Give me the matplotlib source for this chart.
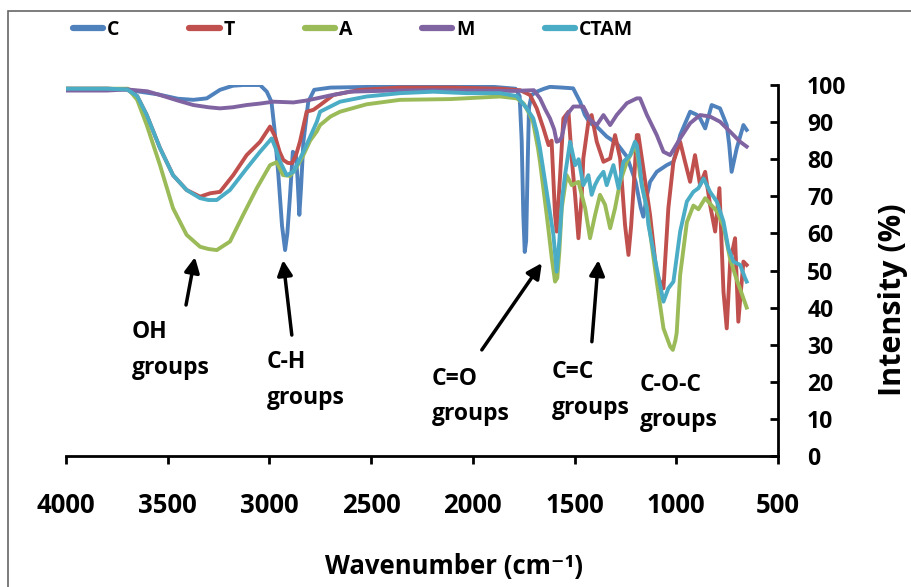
import matplotlib
matplotlib.use("Agg")
import matplotlib.pyplot as plt
from matplotlib.patches import Rectangle
import numpy as np

plt.rcParams['font.family'] = ['Open Sans', 'DejaVu Sans']

series_names = ["C", "T", "A", "M", "CTAM"]
series_colors = ["#4F81BD", "#C0504D", "#9BBB59", "#8064A2", "#4BACC6"]

C_points = [(4000, 99), (3900, 99), (3800, 99), (3700, 98.8), (3650, 98.3), (3550, 97.5),
            (3450, 96.3), (3374, 96), (3308, 96.4), (3243, 98.7), (3180, 99.8), (3128, 100),
            (3046, 100), (3013, 98.2), (2990, 95.5), (2975, 88), (2956, 75.7), (2938, 62),
            (2923, 55.5), (2912, 60), (2899, 70), (2885, 82), (2870, 81), (2862, 75),
            (2853, 65), (2845, 72), (2833, 84.7), (2809, 95.5), (2780, 98.7), (2700, 99.3),
            (2500, 99.5), (2300, 99.6), (2100, 99.6), (1900, 99.5), (1790, 99), (1770, 97),
            (1760, 85), (1752, 65), (1745, 55), (1738, 58), (1730, 80), (1724, 94),
            (1711, 97.3), (1686, 98.2), (1650, 99), (1621, 99.5), (1560, 99.3), (1507, 99.1),
            (1473, 95.5), (1450, 92), (1424, 89.7), (1391, 88.8), (1342, 86.1), (1293, 84.3),
            (1243, 80.7), (1200, 74), (1175, 67), (1162, 64.5), (1145, 70), (1129, 73.9),
            (1096, 76.6), (1047, 78.4), (1014, 79.3), (981, 86.5), (932, 92.8), (900, 92),
            (883, 91), (858, 88.3), (826, 94.6), (785, 93.7), (752, 89.2), (740, 84),
            (728, 76.6), (703, 82.9), (670, 89.2), (654, 87.9)]

T_points = [(4000, 99), (3800, 99), (3700, 98.8), (3650, 97), (3603, 91.9), (3538, 83),
            (3474, 75.7), (3407, 71.7), (3341, 69.9), (3292, 70.8), (3243, 71.2), (3178, 75.7),
            (3112, 81.1), (3046, 84.7), (2997, 88.8), (2972, 86.1), (2950, 82), (2932, 79.8),
            (2910, 79), (2890, 78.9), (2870, 81), (2850, 84.7), (2817, 92.8), (2784, 93.3),
            (2751, 94.6), (2686, 97.3), (2555, 98.7), (2358, 99.3), (2100, 99.3), (1866, 99),
            (1768, 98.6), (1719, 97.3), (1686, 93.7), (1653, 88.3), (1628, 83.8), (1613, 85),
            (1596, 65), (1588, 60.5), (1580, 68), (1571, 75.7), (1555, 91), (1530, 92.8),
            (1514, 80.2), (1497, 70), (1481, 58.7), (1465, 70), (1457, 80.2), (1432, 90.1),
            (1416, 91.9), (1391, 84.7), (1358, 79.3), (1325, 80.2), (1301, 86.5), (1276, 80.2),
            (1252, 62.3), (1235, 54.2), (1222, 62), (1211, 71.2), (1194, 86.5), (1186, 86.5),
            (1162, 77.5), (1129, 65), (1096, 48.8), (1063, 45.2), (1039, 66.8), (1014, 79.3),
            (981, 84.7), (957, 79.3), (932, 73.9), (908, 81.1), (883, 73), (858, 76.6),
            (834, 67.7), (809, 60.5), (788, 72.2), (768, 44.3), (752, 34.4), (735, 52.4),
            (711, 58.7), (695, 36.2), (670, 52.4), (654, 51.5)]

A_points = [(4000, 99), (3800, 99), (3695, 99), (3650, 96), (3603, 89.2), (3538, 78.4),
            (3474, 66.8), (3407, 59.6), (3341, 56.4), (3300, 55.8), (3259, 55.5), (3194, 57.8),
            (3129, 65), (3062, 72.2), (2997, 78.4), (2964, 79.2), (2933, 75.7), (2900, 75.5),
            (2884, 76.5), (2860, 78.5), (2834, 81), (2800, 85), (2767, 87.5), (2751, 89.2),
            (2700, 91.5), (2653, 92.8), (2522, 94.8), (2358, 96), (2112, 96.2), (1866, 96.9),
            (1784, 96.4), (1750, 95), (1719, 91.9), (1704, 90), (1680, 83), (1670, 79.3),
            (1637, 65), (1612, 53.3), (1596, 47), (1585, 48), (1575, 55), (1563, 66.8),
            (1539, 75.7), (1514, 73), (1481, 73.9), (1448, 66.8), (1424, 58.7), (1399, 65),
            (1375, 70.4), (1350, 67.7), (1325, 61.4), (1301, 66.8), (1276, 73.9), (1243, 79.3),
            (1211, 82.5), (1195, 83), (1178, 75.7), (1145, 66.8), (1096, 47), (1063, 34.4),
            (1030, 29.5), (1017, 28.6), (1005, 31), (998, 33.2), (981, 48.8), (948, 63),
            (916, 67.5), (891, 66.5), (858, 69.5), (834, 68), (801, 66), (768, 62),
            (735, 53), (703, 47.5), (686, 45), (654, 40)]

M_points = [(4000, 98.5), (3800, 98.5), (3700, 98.8), (3600, 98.3), (3538, 97.3), (3450, 95.8),
            (3374, 94.6), (3300, 94), (3243, 93.7), (3180, 94), (3112, 94.6), (3046, 95),
            (2981, 95.5), (2930, 95.4), (2882, 95.3), (2820, 95.8), (2767, 96.4), (2700, 97.2),
            (2604, 98.2), (2400, 98.5), (2200, 98.6), (2000, 98.5), (1800, 98.4), (1700, 98.6),
            (1670, 96.4), (1645, 93.5), (1621, 91), (1600, 88), (1588, 84.7), (1575, 85),
            (1563, 86), (1539, 91.9), (1506, 94.2), (1457, 94.2), (1424, 90.6), (1391, 89.2),
            (1358, 91.9), (1325, 89.2), (1293, 91.9), (1243, 95.1), (1194, 96.4), (1178, 96.4),
            (1145, 92), (1096, 86.5), (1063, 82), (1030, 81.1), (981, 85.6), (932, 89.7),
            (883, 91.9), (834, 91.5), (785, 90.1), (735, 87.4), (686, 84.7), (654, 83.4)]

CTAM_points = [(4000, 99), (3800, 99), (3700, 98.8), (3650, 97), (3603, 91.9), (3538, 83),
               (3474, 75.7), (3407, 71.7), (3341, 69.5), (3300, 69), (3259, 69), (3194, 71.7),
               (3112, 77.5), (3046, 82), (2989, 85.6), (2970, 83), (2948, 79.4), (2915, 75.7),
               (2882, 76.6), (2860, 79), (2833, 82), (2800, 86), (2767, 90.1), (2751, 92.8),
               (2653, 95.5), (2522, 96.9), (2358, 97.8), (2194, 98.2), (2030, 97.8), (1866, 97.8),
               (1784, 97), (1735, 93.7), (1703, 91), (1686, 87.4), (1670, 82.9), (1637, 71.2),
               (1604, 59.6), (1588, 49.7), (1575, 58), (1560, 70), (1547, 75.7), (1522, 84.7),
               (1497, 78.4), (1480, 80), (1457, 73), (1432, 75.7), (1416, 70.4), (1400, 73),
               (1383, 74.8), (1358, 76.6), (1342, 73), (1309, 78.4), (1284, 72.2), (1260, 79.3),
               (1227, 81.1), (1203, 84.7), (1194, 83.8), (1178, 77.5), (1170, 73), (1145, 66.8),
               (1137, 62.3), (1096, 50.6), (1063, 41.6), (1039, 45.2), (1014, 47), (981, 60.5),
               (948, 68.6), (916, 71.2), (891, 72.2), (866, 74.8), (834, 71.2), (801, 68.6),
               (768, 63.2), (744, 56), (719, 52.4), (686, 51.5), (662, 48), (654, 47)]

x_ticks = [4000, 3500, 3000, 2500, 2000, 1500, 1000, 500]
y_ticks = [0, 10, 20, 30, 40, 50, 60, 70, 80, 90, 100]

annotations = [
    ("OH\ngroups", (3366, 53.6), (3410, 40.7), (3676, 28.6)),
    ("C-H\ngroups", (2933, 52.8), (2890, 32.6), (3013, 20.5)),
    ("C=O\ngroups", (1661, 52.0), (1956, 28.6), (2202, 16.0)),
    ("C=C\ngroups", (1383, 52.8), (1415, 30.8), (1612, 17.8)),
    ("C-O-C\ngroups", None, None, (1181, 14.4)),
]

fig = plt.figure(figsize=(9.11, 5.87), dpi=100)
ax = fig.add_axes([66 / 911, 131 / 587, 712 / 911, 371 / 587])

all_points = [C_points, T_points, A_points, M_points, CTAM_points]
for name, color, pts in zip(series_names, series_colors, all_points):
    w = [p[0] for p in pts]
    v = [p[1] for p in pts]
    ax.plot(w, v, color=color, lw=2.8, label=name, solid_joinstyle='round')

ax.set_xlim(4000, 500)
ax.set_ylim(0, 100)
ax.set_xticks(x_ticks)
ax.set_yticks(y_ticks)

for s in ["top", "left"]:
    ax.spines[s].set_visible(False)
ax.spines["bottom"].set_linewidth(2)
ax.spines["right"].set_linewidth(2)
ax.yaxis.tick_right()
ax.yaxis.set_label_position("right")
ax.tick_params(axis='x', direction='out', length=6, width=2, pad=20,
               labelsize=18.5)
ax.tick_params(axis='y', direction='in', length=6, width=2, pad=21,
               labelsize=16.5)
for lab in ax.get_xticklabels() + ax.get_yticklabels():
    lab.set_fontweight('bold')

ax.set_xlabel("Wavenumber (cm\u207b\u00b9)", fontsize=18.5, fontweight='bold')
ax.xaxis.set_label_coords(0.545, -0.262)
ax.set_ylabel("Intensity (%)", fontsize=22, fontweight='bold')
ax.yaxis.set_label_coords(1.14, 0.42)

for text, head, tail, tpos in annotations:
    if head is not None:
        ax.annotate("", xy=head, xytext=tail,
                    arrowprops=dict(arrowstyle="-|>,head_length=0.9,head_width=0.45",
                                    color="black", lw=2.5, shrinkA=0, shrinkB=0))
    ax.text(tpos[0], tpos[1], text, ha='left', va='center', fontsize=16.5,
            fontweight='bold', linespacing=1.65)

leg = ax.legend(loc='upper left', bbox_to_anchor=(73 / 911, 567 / 587),
                bbox_transform=fig.transFigure, ncol=5, frameon=False,
                fontsize=14, handlelength=1.55, handletextpad=0.2,
                columnspacing=3.6, borderaxespad=0, borderpad=0)
for t in leg.get_texts():
    t.set_fontweight('bold')
for h in leg.get_lines():
    h.set_linewidth(4.5)
    h.set_solid_capstyle('round')

fig.patches.append(Rectangle((8 / 911, -0.1), 1.2, 1.1 - 11 / 587, transform=fig.transFigure,
                             fill=False, edgecolor='#666666', lw=1.2))

fig.savefig("out.png", dpi=100)
